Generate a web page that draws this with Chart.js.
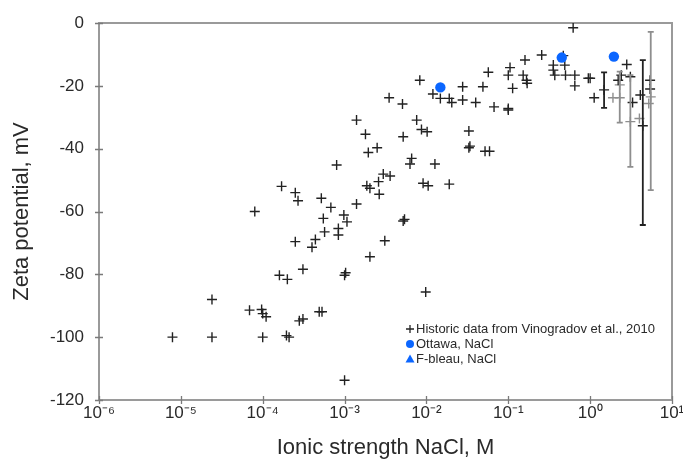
<!DOCTYPE html>
<html><head><meta charset="utf-8">
<script src="https://cdn.jsdelivr.net/npm/chart.js@4.4.1/dist/chart.umd.min.js"></script>
<style>html,body{margin:0;padding:0;background:#fff}#wrap{width:683px;height:464px;position:relative}</style>
</head><body><div id="wrap"><canvas id="c"></canvas></div>
<script>
// ---- data ----
const historicX = [7.9e-6,2.4e-5,2.4e-5,6.9e-5,8e-5,9.7e-5,1.0e-4,1.1e-4,1e-4,1.6e-4,1.7e-4,2e-4,1.95e-4,2.1e-4,2.5e-4,2.7e-4,2.5e-4,2.8e-4,3.1e-4,3.1e-4,4e-4,4.4e-4,4.9e-4,5.3e-4,5.2e-4,5.5e-4,5.7e-4,6.8e-4,8e-4,8.4e-4,8.4e-4,9.8e-4,1.07e-3,1e-3,1.03e-3,1e-3,1.4e-3,1.4e-3,1.8e-3,1.87e-3,2.04e-3,1.95e-3,2.04e-3,2.5e-3,2.6e-3,2.65e-3,2.97e-3,3.6e-3,3.1e-3,3.5e-3,5.1e-3,5.2e-3,5.2e-3,5.4e-3,6.6e-3,6.3e-3,7.6e-3,8.3e-3,8.7e-3,9.1e-3,1.02e-2,1.05e-2,9.8e-3,1.27e-2,0.012,0.0148,0.019,0.019,0.0204,0.0277,0.0277,0.033,0.033,0.034,0.04,0.049,0.052,0.059,0.057,0.067,0.1,0.1,0.1,0.105,0.113,0.152,0.16,0.167,0.17,0.256,0.355,0.355,0.37,0.47,0.49,0.5,0.62,0.65,0.65,0.95,1.0,1.12,2.2,2.4,2.8,3.1,3.3,4.1,5.4,5.4];
const historicY = [-100,-88,-100,-91.4,-60,-91.2,-92.5,-93.5,-100,-80.3,-52,-81.6,-99.5,-100,-54,-56.6,-69.6,-94.8,-94.2,-78.4,-71.4,-68.9,-91.9,-91.9,-55.8,-62.2,-66.5,-58.7,-45.2,-65.4,-67.5,-61.1,-63.3,-80.3,-79.5,-113.7,-30.9,-57.6,-35.4,-51.8,-52.6,-41.2,-74.4,-39.7,-50.5,-54.5,-48.1,-48.7,-69.3,-23.8,-25.8,-36.2,-63,-62.5,-43.1,-44.9,-30.9,-18.2,-33.9,-51,-34.6,-51.8,-85.6,-44.9,-22.6,-24,-24,-51.3,-25.3,-24.5,-20.3,-34.4,-39.7,-39.2,-25.3,-20.3,-40.8,-40.8,-15.7,-26.7,-27.2,-27.7,-16.6,-14.2,-20.8,-16.6,-11.8,-18.2,-19.2,-10.2,-13.4,-15,-16.6,-10.4,-13.4,-16.6,-1.5,-16.6,-20,-17.6,-17.6,-23.8,-18.2,-16.6,-13.2,-17.1,-25.3,-22.9,-18.2,-21];
const historicGreyX = [1.9,2.3,4.0,5.2];
const historicGreyY = [-23.8,-19.7,-30.4,-25.6];
const barBlackX = [1.48,4.4];
const barBlackY = [-21.3,-32.7];
const barBlackLow = [-27,-64.3];
const barBlackHigh = [-15.7,-11.8];
const barGreyX = [2.3,3.1,5.5];
const barGreyY = [-23.8,-31.4,-23.5];
const barGreyLow = [-31.7,-45.8,-53.2];
const barGreyHigh = [-15.5,-16.6,-2.8];
const ottawaX = [0.0148,0.45,1.95];
const ottawaY = [-20.5,-11,-10.7];
const fbleauX = [];
const fbleauY = [];
const xTickExponents = [-6,-5,-4,-3,-2,-1,0,1];
const yTickValues = [0,-20,-40,-60,-80,-100,-120];
const seriesLabels = ['Historic data from Vinogradov et al., 2010','Ottawa, NaCl','F-bleau, NaCl'];
const xTitle = 'Ionic strength NaCl, M';
const yTitle = 'Zeta potential, mV';

// ---- helpers ----
const pts = (xs, ys) => xs.map((x, i) => ({x, y: ys[i]}));
const SUP = {'-':'\u207B','0':'\u2070','1':'\u00B9','2':'\u00B2','3':'\u00B3','4':'\u2074','5':'\u2075','6':'\u2076','7':'\u2077','8':'\u2078','9':'\u2079'};
const sup = s => String(s).split('').map(c => SUP[c] || c).join('');
const BLACK = '#222222', GREY = '#8e8e8e', BLUE = '#0b66ff', AXIS = '#9a9a9a';
const FONT = "'Liberation Sans', Arial, sans-serif";

const frameAndTicks = {
  id: 'frameAndTicks',
  beforeDatasetsDraw(chart) {
    const {ctx, chartArea: a, scales: {x, y}} = chart;
    ctx.save();
    ctx.strokeStyle = AXIS; ctx.lineWidth = 2;
    ctx.beginPath();
    ctx.moveTo(a.left, a.top); ctx.lineTo(a.right, a.top); ctx.lineTo(a.right, a.bottom);
    ctx.stroke();
    ctx.strokeStyle = '#7a7a7a'; ctx.lineWidth = 1.3;
    ctx.beginPath();
    y.ticks.forEach(t => { const py = Math.round(y.getPixelForValue(t.value)) + 0.5; ctx.moveTo(a.left - 4, py); ctx.lineTo(a.left + 4, py); });
    x.ticks.forEach(t => { const px = Math.round(x.getPixelForValue(t.value)) + 0.5; ctx.moveTo(px, a.bottom - 4); ctx.lineTo(px, a.bottom + 4); });
    ctx.stroke();
    ctx.restore();
  }
};

const errorBars = {
  id: 'errorBars',
  afterDatasetsDraw(chart) {
    const {ctx, scales: {x, y}} = chart;
    ctx.save();
    chart.data.datasets.forEach(ds => {
      if (!ds.errLow) return;
      ctx.strokeStyle = ds.borderColor; ctx.lineWidth = 1.8;
      ds.data.forEach((p, i) => {
        const px = x.getPixelForValue(p.x);
        const lo = y.getPixelForValue(ds.errLow[i]);
        const hi = y.getPixelForValue(ds.errHigh[i]);
        ctx.beginPath();
        ctx.moveTo(px, lo); ctx.lineTo(px, hi);
        ctx.moveTo(px - 3, lo); ctx.lineTo(px + 3, lo);
        ctx.moveTo(px - 3, hi); ctx.lineTo(px + 3, hi);
        ctx.stroke();
      });
    });
    ctx.restore();
  }
};

const inLegend = {
  id: 'inLegend',
  afterDraw(chart) {
    const {ctx} = chart;
    const rows = seriesLabels.map(l => chart.data.datasets.find(d => d.label === l));
    ctx.save();
    ctx.font = '13px ' + FONT;
    ctx.textBaseline = 'middle';
    const x0 = 410, y0 = 329, dy = 15;
    rows.forEach((d, i) => {
      const yy = y0 + i * dy;
      ctx.strokeStyle = d.borderColor; ctx.fillStyle = d.backgroundColor || d.borderColor;
      ctx.lineWidth = 1.3;
      if (d.pointStyle === 'cross') {
        ctx.beginPath(); ctx.moveTo(x0 - 4, yy); ctx.lineTo(x0 + 4, yy); ctx.moveTo(x0, yy - 4); ctx.lineTo(x0, yy + 4); ctx.stroke();
      } else if (d.pointStyle === 'circle') {
        ctx.beginPath(); ctx.arc(x0, yy, 4, 0, Math.PI * 2); ctx.fill();
      } else if (d.pointStyle === 'triangle') {
        ctx.beginPath(); ctx.moveTo(x0, yy - 4.5); ctx.lineTo(x0 + 4.5, yy + 3.5); ctx.lineTo(x0 - 4.5, yy + 3.5); ctx.closePath(); ctx.fill();
      }
      ctx.fillStyle = '#2a2a2a';
      ctx.fillText(d.label, x0 + 6, yy + 0.5);
    });
    ctx.restore();
  }
};

const crossStyle = (color) => ({pointStyle: 'cross', pointRadius: 5, pointHoverRadius: 5, borderColor: color, backgroundColor: color, pointBorderWidth: 1.4, borderWidth: 1.4, showLine: false});

new Chart(document.getElementById('c'), {
  type: 'scatter',
  data: {
    datasets: [
      Object.assign({label: seriesLabels[1], data: pts(ottawaX, ottawaY), pointStyle: 'circle', pointRadius: 5.2, borderColor: BLUE, backgroundColor: BLUE, borderWidth: 0, order: 0}),
      Object.assign({label: seriesLabels[2], data: pts(fbleauX, fbleauY), pointStyle: 'triangle', pointRadius: 5, borderColor: BLUE, backgroundColor: BLUE, borderWidth: 0, order: 0}),
      Object.assign({label: seriesLabels[0], data: pts(historicX, historicY), order: 2}, crossStyle(BLACK)),
      Object.assign({label: '_grey', data: pts(historicGreyX, historicGreyY), order: 3}, crossStyle(GREY)),
      Object.assign({label: '_barBlack', data: pts(barBlackX, barBlackY), errLow: barBlackLow, errHigh: barBlackHigh, order: 2}, crossStyle(BLACK)),
      Object.assign({label: '_barGrey', data: pts(barGreyX, barGreyY), errLow: barGreyLow, errHigh: barGreyHigh, order: 3}, crossStyle(GREY))
    ]
  },
  options: {
    responsive: true, maintainAspectRatio: false, animation: false,
    layout: {padding: {left: 0, right: 11, top: 23, bottom: 0}},
    plugins: {legend: {display: false}, tooltip: {enabled: false}},
    scales: {
      x: {
        type: 'logarithmic', min: 1e-6, max: 10,
        afterBuildTicks: s => { s.ticks = xTickExponents.map(e => ({value: Math.pow(10, e)})); },
        afterFit: s => { s.height = 64; s.paddingRight = 0; s.paddingLeft = 0; },
        grid: {display: false, drawTicks: false},
        border: {display: true, color: AXIS, width: 2},
        ticks: {font: {family: FONT, size: 17}, color: '#2a2a2a', padding: 3, maxRotation: 0, autoSkip: false,
          callback: v => { const e = Math.round(Math.log10(v)); return '10' + sup(e); }},
        title: {display: true, text: xTitle, font: {family: FONT, size: 22}, color: '#2a2a2a', padding: {top: 0, bottom: 3}}
      },
      y: {
        min: -120, max: 0,
        afterBuildTicks: s => { s.ticks = yTickValues.map(v => ({value: v})); },
        afterFit: s => { s.width = 99; s.paddingTop = 0; s.paddingBottom = 0; },
        grid: {display: false, drawTicks: false},
        border: {display: true, color: AXIS, width: 2},
        ticks: {font: {family: FONT, size: 17}, color: '#2a2a2a', padding: 15, autoSkip: false},
        title: {display: true, text: yTitle, font: {family: FONT, size: 22}, color: '#2a2a2a', padding: {top: 9, bottom: 0}}
      }
    }
  },
  plugins: [frameAndTicks, errorBars, inLegend]
});
</script></body></html>
